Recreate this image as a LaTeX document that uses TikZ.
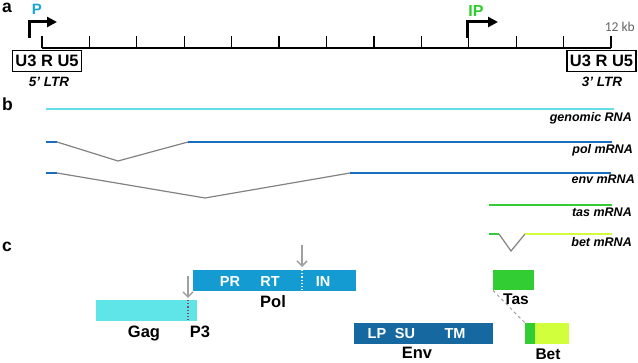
\documentclass[tikz,border=0pt]{standalone}
\usepackage{fontspec}
\setmainfont{Liberation Sans}
\newfontfamily\calibri{Carlito}
\usetikzlibrary{arrows.meta}
\definecolor{genomecyan}{RGB}{100,222,230}
\definecolor{gagcyan}{RGB}{95,228,232}
\definecolor{mrnablue}{RGB}{25,110,190}
\definecolor{polblue}{RGB}{20,155,210}
\definecolor{envblue}{RGB}{22,105,160}
\definecolor{tasgreen}{RGB}{50,205,50}
\definecolor{betlime}{RGB}{210,255,60}
\definecolor{promblue}{RGB}{25,165,220}
\definecolor{promgreen}{RGB}{45,205,45}
\definecolor{splicegrey}{RGB}{130,130,130}
\definecolor{cutgrey}{RGB}{160,160,160}
\definecolor{kbgrey}{RGB}{100,100,100}
\definecolor{p3mark}{RGB}{140,70,100}
\newcommand{\fsz}[1]{\fontsize{#1}{#1}\selectfont}
\tikzset{
  panel/.style={font=\bfseries\fsz{17.5}, anchor=base west, inner sep=0pt},
  ltrbox/.style={draw, line width=1.2pt, minimum width=69pt, minimum height=21pt, inner sep=0pt, font=\bfseries\fsz{16.5}},
  ltrname/.style={font=\bfseries\itshape\fsz{13.5}, anchor=base, inner sep=0pt},
  promoter/.style={line width=3pt, -{Triangle[length=10pt,width=10pt]}},
  rnaname/.style={font=\bfseries\itshape\fsz{12.5}, anchor=base east, inner sep=0pt},
  exon/.style={line width=2pt},
  intron/.style={splicegrey, line width=1.2pt},
  protein/.style={minimum height=21pt, inner sep=0pt, anchor=north west},
  domainlbl/.style={text=white, font=\bfseries\fsz{14.5}, anchor=base, inner sep=0pt},
  protname/.style={font=\bfseries\fsz{16.5}, anchor=base, inner sep=0pt},
  cut/.style={cutgrey, line width=1.5pt, -{Straight Barb[length=5pt,width=10pt]}}
}
\begin{document}
\begin{tikzpicture}[x=1pt,y=-1pt]
\useasboundingbox (0,0) rectangle (638,363);
% a: genome map, 12 kb scale
\node[panel] (pa) at (2,13) {a};
\draw[line width=1.3pt] (42,48) -- (611,48);
\foreach \k in {0,...,12}
\draw[line width=1.3pt,shift={(42+47.42*\k,0)}] (0,48) -- (0,36);
\draw[promoter] (29,38) |- (57,22);
\node[font=\bfseries\fsz{15},text=promblue,anchor=base,inner sep=0pt] (P) at (37,15) {P};
\draw[promoter] (467,38) |- (498,22);
\node[font=\bfseries\fsz{16},text=promgreen,anchor=base,inner sep=0pt] (IP) at (476,17) {IP};
\node[font=\calibri\fsz{13.5},text=kbgrey,anchor=base east,inner sep=0pt] (kb) at (635,31.5) {12 kb};
\node[ltrbox] (ltr5) at (47,61) {U3 R U5};
\node[ltrbox] (ltr3) at (601.5,61) {U3 R U5};
\node[ltrname] (ltr5name) at (49,87) {5' LTR};
\node[ltrname] (ltr3name) at (602,87) {3' LTR};
% b: transcripts
\node[panel] (pb) at (2,111) {b};
\draw[exon,genomecyan] (46,109) -- (614,109);
\node[rnaname] (genomic) at (632,122) {genomic RNA};
\draw[exon,mrnablue] (46,142) -- (57,142);
\draw[intron] (57,142) -- (118,161) -- (188,142);
\draw[exon,mrnablue] (188,142) -- (612,142);
\node[rnaname] (polrna) at (633,154) {pol mRNA};
\draw[exon,mrnablue] (46,173) -- (57,173);
\draw[intron] (57,173) -- (205,198) -- (350,173);
\draw[exon,mrnablue] (350,173) -- (611,173);
\node[rnaname] (envrna) at (635,184) {env mRNA};
\draw[exon,tasgreen] (489,205) -- (612,205);
\node[rnaname] (tasrna) at (632,217) {tas mRNA};
\draw[exon,tasgreen] (489,234) -- (499,234);
\draw[intron] (499,234) -- (511,251) -- (525,234);
\draw[exon,betlime] (525,234) -- (612,234);
\node[rnaname] (betrna) at (632,247) {bet mRNA};
% c: proteins
\node[panel] (pc) at (2,252) {c};
\node[protein,fill=polblue,minimum width=163pt] (pol) at (193,270) {};
\draw[white,line width=1.2pt,dotted] (302,270) -- (302,291);
\node[domainlbl] (PR) at (230,287) {PR};
\node[domainlbl] (RT) at (270,287) {RT};
\node[domainlbl] (IN) at (323,287) {IN};
\coordinate (incut) at (302,245);
\draw[cut] (incut) -- (302,267);
\node[protname] (polname) at (273,308) {Pol};
\node[protein,fill=gagcyan,minimum width=101pt] (gag) at (96,300) {};
\draw[p3mark,line width=1.2pt,dotted] (188,300) -- (188,321);
\coordinate (p3cut) at (188,276);
\draw[cut] (p3cut) -- (188,298);
\node[protname] (gagname) at (144,338) {Gag};
\node[protname] (p3) at (200,338) {P3};
\node[protein,fill=envblue,minimum width=139pt] (env) at (354,323) {};
\node[domainlbl] (LP) at (377,339) {LP};
\node[domainlbl] (SU) at (405,339) {SU};
\node[domainlbl] (TM) at (455,339) {TM};
\node[protname] (envname) at (417,359) {Env};
\node[protein,fill=tasgreen,minimum width=41pt,minimum height=20pt] (tas) at (493,270) {};
\node[protein,fill=betlime,minimum width=44pt] (bet) at (525,323) {};
\fill[tasgreen] (bet.north west) rectangle ++(10,21);
\draw[cutgrey,dashed,line width=1pt] (tas.south west) -- (bet.north west);
\node[protname,font=\bfseries\fsz{15.5}] (tasname) at (516,305) {Tas};
\node[protname,font=\bfseries\fsz{15.5}] (betname) at (548,360) {Bet};
\end{tikzpicture}
\end{document}
